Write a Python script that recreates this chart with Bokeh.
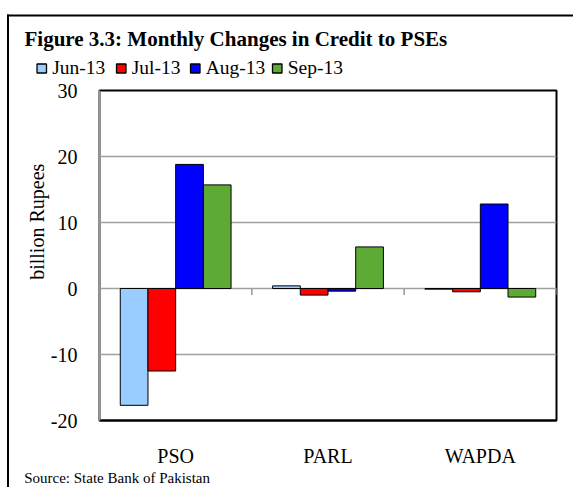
from bokeh.plotting import figure
from bokeh.layouts import column
from bokeh.models import (ColumnDataSource, FactorRange, Range1d, FixedTicker, Title)
from bokeh.transform import dodge
from bokeh.core.properties import value
from bokeh.embed import file_html
from bokeh.resources import INLINE

# ---------------- data ----------------
categories = ["PSO", "PARL", "WAPDA"]
series = ["Jun-13", "Jul-13", "Aug-13", "Sep-13"]
jun13 = [-17.7, 0.4, -0.1]
jul13 = [-12.5, -1.0, -0.5]
aug13 = [18.8, -0.4, 12.8]
sep13 = [15.7, 6.3, -1.3]
y_ticks = [-20, -10, 0, 10, 20, 30]
title_text = "Figure 3.3: Monthly Changes in Credit to PSEs"
y_title = "billion Rupees"
source_text = "Source: State Bank of Pakistan"
colors = ["#99CCFF", "#FF0000", "#0000FF", "#5DAB35"]

FONT = "Liberation Serif"
W = 573
HEAD_H = 78
MAIN_H = 487 - HEAD_H

# ---------------- header (title + legend), pixel coordinates ----------------
head = figure(width=W, height=HEAD_H, x_range=Range1d(0, W), y_range=Range1d(HEAD_H, 0),
              x_axis_type=None, y_axis_type=None, output_backend="svg",
              toolbar_location=None, min_border=0)
head.title = None
head.min_border_left = head.min_border_right = head.min_border_top = head.min_border_bottom = 0
head.outline_line_color = None
head.grid.visible = False
head.background_fill_color = "white"
head.border_fill_color = "white"

# outer box lines (top and left)
head.segment(x0=[6.5, 7.5], y0=[15, 14], x1=[W, 7.5], y1=[15, HEAD_H],
             line_color="black", line_width=2)

head.text(x=[24], y=[38], text=[title_text], text_font=value(FONT),
          text_font_style="bold", text_font_size="21px",
          text_baseline="alphabetic", text_align="left", text_color="black")

sq_left = [36.5, 116, 190, 272]
sq_w = 9.5
head.quad(left=sq_left, right=[v + sq_w for v in sq_left], top=[63.5] * 4, bottom=[72.5] * 4,
          fill_color=colors, line_color="black", line_width=1.3)
head.text(x=[v + 15.2 for v in sq_left], y=[67] * 4, text=series, text_font=value(FONT),
          text_font_size="19.5px", text_baseline="alphabetic", text_align="left",
          text_color="black")

# ---------------- main chart ----------------
src = ColumnDataSource(dict(cat=categories, jun=jun13, jul=jul13, aug=aug13, sep=sep13))
cols = ["jun", "jul", "aug", "sep"]

x_range = FactorRange(*categories, range_padding=0)
p = figure(width=W, height=MAIN_H, x_range=x_range, y_range=Range1d(-20, 30),
           output_backend="svg", toolbar_location=None,
           min_border_left=99, min_border_right=17, min_border_top=90 - HEAD_H,
           min_border_bottom=65)
p.title = None
p.background_fill_color = "white"
p.border_fill_color = None
p.outline_line_color = "black"
p.outline_line_width = 2
# left line of the outer box
p.styles = {"background": "linear-gradient(#000,#000) 6.5px 0 / 2px 100% no-repeat, #fff"}

for fig in (head, p):
    if "frame_align" in fig.properties():
        fig.frame_align = False

# grid
p.xgrid.visible = False
p.ygrid.ticker = FixedTicker(ticks=y_ticks)
p.ygrid.grid_line_color = "#A0A0A0"
p.ygrid.grid_line_width = 1.5

# y axis
p.yaxis.ticker = FixedTicker(ticks=y_ticks)
p.yaxis.major_label_overrides = {t: str(t) for t in y_ticks}
p.yaxis.major_tick_out = 0
p.yaxis.major_tick_in = 0
p.yaxis.minor_tick_out = 0
p.yaxis.minor_tick_in = 0
p.yaxis.axis_line_color = "#999999"
p.yaxis.axis_line_width = 2
p.yaxis.major_label_standoff = 22
p.yaxis.major_label_text_font = FONT
p.yaxis.major_label_text_font_size = "20px"
p.yaxis.major_label_text_color = "black"

# x axis
p.xaxis.major_tick_out = 0
p.xaxis.major_tick_in = 0
p.xaxis.axis_line_color = "black"
p.xaxis.axis_line_width = 2
p.xaxis.major_label_standoff = 24
p.xaxis.major_label_text_font = FONT
p.xaxis.major_label_text_font_size = "20px"
p.xaxis.major_label_text_color = "black"

# bars
bw = 1 / 5.5
for i, (c, col) in enumerate(zip(colors, cols)):
    off = (i - 1.5) * bw
    p.vbar(x=dodge("cat", off, range=p.x_range), top=col, bottom=0, width=bw,
           source=src, fill_color=c, line_color="black", line_width=1)

# category tick marks on zero line (at category boundaries)
tick_src = ColumnDataSource(dict(cat=categories, y0=[0] * len(categories), y1=[-1] * len(categories)))
end_src = ColumnDataSource(dict(cat=categories[-1:], y0=[0], y1=[-1]))
p.segment(x0=dodge("cat", -0.5, range=p.x_range), x1=dodge("cat", -0.5, range=p.x_range),
          y0="y0", y1="y1", source=tick_src, line_color="#999999", line_width=1.5)
p.segment(x0=dodge("cat", 0.5, range=p.x_range), x1=dodge("cat", 0.5, range=p.x_range),
          y0="y0", y1="y1", source=end_src, line_color="#999999", line_width=1.5)

# y-axis title
p.add_layout(Title(text=y_title, align="left", offset=140.7, standoff=0,
                   text_font=FONT, text_font_size="20px", text_font_style="normal",
                   text_color="black"), "left")

# source note
p.add_layout(Title(text=source_text, align="left", offset=-75.3, standoff=0,
                   vertical_align="top", text_font=FONT, text_font_size="15px",
                   text_font_style="normal", text_color="black"), "below")

layout = column(head, p, spacing=0)
open("out.html", "w").write(file_html(layout, INLINE))
